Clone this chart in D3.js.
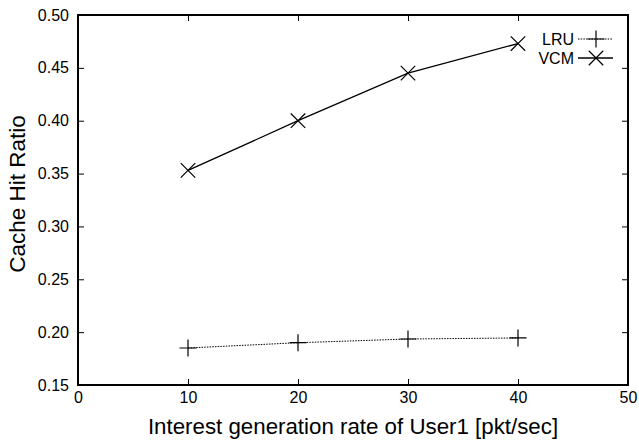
<!DOCTYPE html>
<html>
<head>
<meta charset="utf-8">
<script src="https://cdn.jsdelivr.net/npm/d3@7"></script>
<style>
  body { margin: 0; background: #fff; }
  text { font-family: "Liberation Sans", Arial, sans-serif; fill: #000; }
</style>
</head>
<body>
<div id="chart"></div>
<script>
var rates = [10, 20, 30, 40];
var lruHit = [0.185, 0.190, 0.1935, 0.1945];
var vcmHit = [0.353, 0.400, 0.445, 0.473];
var xTicks = [0, 10, 20, 30, 40, 50];
var yTicks = [0.15, 0.20, 0.25, 0.30, 0.35, 0.40, 0.45, 0.50];

var margin = { top: 15, right: 11, bottom: 56, left: 78 },
    width = 639 - margin.left - margin.right,
    height = 441 - margin.top - margin.bottom;

var svg = d3.select("#chart").append("svg")
    .attr("width", 639)
    .attr("height", 441)
    .append("g")
    .attr("transform", "translate(" + margin.left + "," + margin.top + ")");

var x = d3.scaleLinear().domain([0, 50]).range([0, width]);
var y = d3.scaleLinear().domain([0.15, 0.50]).range([height, 0]);

// ticks on all four sides, pointing inward
function tickAxis(axis, tr) {
    var g = svg.append("g").attr("transform", tr).call(axis);
    g.select(".domain").remove();
    g.selectAll(".tick line").attr("stroke", "#000").attr("stroke-width", 1);
    return g;
}
var xb = tickAxis(d3.axisBottom(x).tickValues(xTicks).tickSizeInner(-6).tickPadding(7).tickFormat(d3.format("d")), "translate(0," + height + ")");
var yl = tickAxis(d3.axisLeft(y).tickValues(yTicks).tickSizeInner(-6).tickPadding(9).tickFormat(d3.format(".2f")), "translate(0,0)");
tickAxis(d3.axisTop(x).tickValues(xTicks).tickSizeInner(-6).tickFormat(""), "translate(0,0)");
tickAxis(d3.axisRight(y).tickValues(yTicks).tickSizeInner(-6).tickFormat(""), "translate(" + width + ",0)");

xb.selectAll("text").style("font-size", "16px").attr("font-family", null);
yl.selectAll("text").style("font-size", "16px").attr("font-family", null);

svg.append("rect")
    .attr("width", width)
    .attr("height", height)
    .attr("fill", "none")
    .attr("stroke", "#000")
    .attr("stroke-width", 2);

svg.append("text")
    .attr("x", width / 2)
    .attr("y", height + 49)
    .attr("text-anchor", "middle")
    .style("font-size", "22.3px")
    .text("Interest generation rate of User1 [pkt/sec]");

svg.append("text")
    .attr("transform", "translate(-53," + (height / 2 - 6) + ") rotate(-90)")
    .attr("text-anchor", "middle")
    .style("font-size", "22.5px")
    .text("Cache Hit Ratio");

var series = [
    { name: "LRU", values: lruHit, dash: "1.5,1.2", width: 1, marker: "plus" },
    { name: "VCM", values: vcmHit, dash: null, width: 1.3, marker: "cross" }
];

var m = 8.5;
function markerPath(type) {
    if (type === "plus") return "M" + (-m) + ",0H" + m + "M0," + (-m) + "V" + m;
    var c = m * 0.85;
    return "M" + (-c) + "," + (-c) + "L" + c + "," + c + "M" + (-c) + "," + c + "L" + c + "," + (-c);
}

var line = d3.line()
    .x(function (d, i) { return x(rates[i]); })
    .y(function (d) { return y(d); });

series.forEach(function (s, k) {
    svg.append("path")
        .datum(s.values)
        .attr("d", line)
        .attr("fill", "none")
        .attr("stroke", "#000")
        .attr("stroke-width", s.width)
        .attr("stroke-dasharray", s.dash);

    svg.selectAll(".m-" + s.name)
        .data(s.values)
        .enter().append("path")
        .attr("class", "m-" + s.name)
        .attr("transform", function (d, i) { return "translate(" + x(rates[i]) + "," + y(d) + ")"; })
        .attr("d", markerPath(s.marker))
        .attr("fill", "none")
        .attr("stroke", "#000")
        .attr("stroke-width", 1.2);

    // legend
    var ly = 24 + k * 19;
    var lg = svg.append("g").attr("transform", "translate(0," + ly + ")");
    lg.append("text")
        .attr("x", 496)
        .attr("dy", "0.35em")
        .attr("text-anchor", "end")
        .style("font-size", "16px")
        .text(s.name);
    lg.append("line")
        .attr("x1", 500).attr("x2", 535)
        .attr("stroke", "#000")
        .attr("stroke-width", s.width)
        .attr("stroke-dasharray", s.dash);
    lg.append("path")
        .attr("transform", "translate(518,0)")
        .attr("d", markerPath(s.marker))
        .attr("fill", "none")
        .attr("stroke", "#000")
        .attr("stroke-width", 1.2);
});
</script>
</body>
</html>
